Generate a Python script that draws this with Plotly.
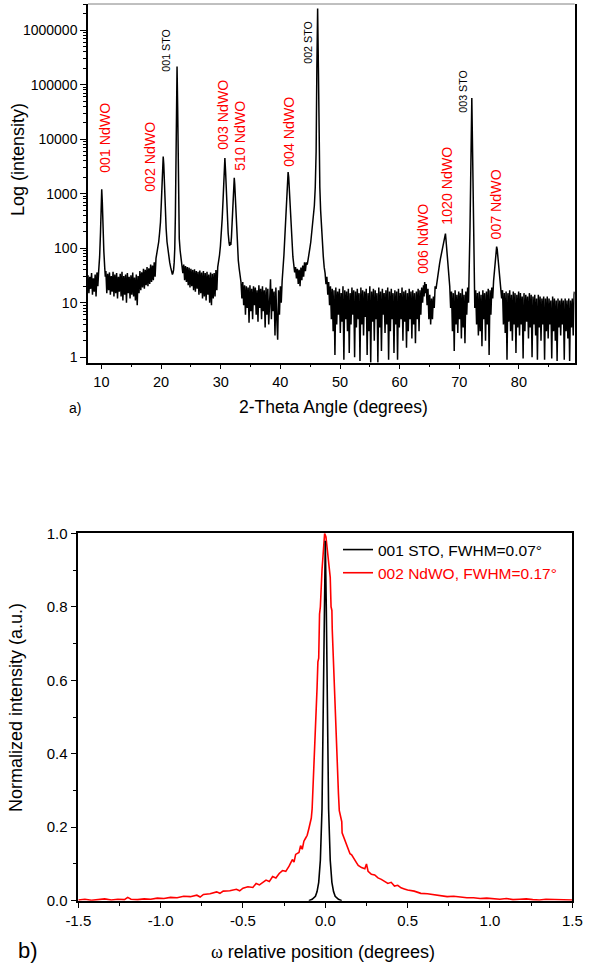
import plotly.graph_objects as go

# ---------------- DATA: (a) XRD 2-theta scan in segments ----------------
seg01_tt = [7.75, 7.9, 8.05, 8.2, 8.35, 8.5, 8.65, 8.8, 8.95, 9.1, 9.25, 9.4, 9.55,
            9.7, 9.85, 9.95, 10.05, 10.15, 10.25, 10.4, 10.55, 10.65]
seg01_int = [32, 15, 30, 18, 35, 14, 28, 16, 33, 13, 36, 20, 40,
             70, 200, 600, 1200, 700, 250, 90, 45, 30]

seg02_tt = [10.75, 10.9, 11.05, 11.2, 11.35, 11.5, 11.65, 11.8, 11.95, 12.1,
            12.25, 12.4, 12.55, 12.7, 12.85, 13.0, 13.15, 13.3, 13.45, 13.6,
            13.75, 13.9, 14.05, 14.2, 14.35, 14.5, 14.65, 14.8, 14.95, 15.1,
            15.25, 15.4, 15.55, 15.7, 15.85, 16.0, 16.15, 16.3, 16.45, 16.6,
            16.75, 16.9, 17.05, 17.2, 17.35, 17.5, 17.65, 17.8, 17.95, 18.1,
            18.25, 18.4, 18.55, 18.7, 18.85, 19.0]
seg02_int = [38, 15, 34, 17, 36, 14, 31, 16, 37, 13,
             33, 15, 35, 12, 30, 16, 34, 13, 37, 11,
             31, 14, 33, 10, 35, 15, 30, 12, 32, 14,
             36, 13, 29, 11, 33, 9, 31, 15, 38, 17,
             36, 19, 42, 18, 40, 21, 45, 20, 43, 22,
             50, 24, 48, 26, 55, 30]

seg03_tt = [19.15, 19.3, 19.45, 19.6, 19.75, 19.9, 20.05, 20.2, 20.3, 20.36,
            20.45, 20.55, 20.7, 20.85, 21.0, 21.15, 21.3, 21.45, 21.6, 21.75,
            21.9, 22.0, 22.1, 22.2, 22.3, 22.4, 22.5, 22.58, 22.68, 22.78,
            22.86, 22.95, 23.05, 23.2, 23.35, 23.5]
seg03_int = [65, 80, 100, 130, 190, 300, 700, 2000, 4000, 4800,
             3500, 1500, 500, 230, 130, 90, 70, 55, 45, 38,
             33, 35, 40, 55, 100, 400, 3000, 40000, 215000, 40000,
             3000, 400, 150, 90, 65, 52]

seg04_tt = [23.65, 23.8, 23.95, 24.1, 24.25, 24.4, 24.55, 24.7, 24.85, 25.0,
            25.15, 25.3, 25.45, 25.6, 25.75, 25.9, 26.05, 26.2, 26.35, 26.5,
            26.65, 26.8, 26.95, 27.1, 27.25, 27.4, 27.55, 27.7, 27.85, 28.0,
            28.15, 28.3, 28.45, 28.6, 28.75, 28.9, 29.05, 29.2, 29.35, 29.5]
seg04_int = [35, 50, 26, 47, 24, 45, 21, 44, 19, 42,
             20, 40, 17, 41, 16, 38, 18, 37, 14, 39,
             15, 36, 12, 38, 13, 35, 11, 37, 14, 33,
             10, 36, 9, 34, 12, 35, 13, 40, 17, 45]

seg05_tt = [29.65, 29.8, 29.95, 30.1, 30.25, 30.4, 30.55, 30.7, 30.82, 30.95,
            31.1, 31.25, 31.4, 31.5, 31.6, 31.7, 31.8, 31.95, 32.1, 32.2,
            32.27, 32.35, 32.5, 32.65, 32.8, 32.95, 33.1, 33.25, 33.4]
seg05_int = [55, 75, 110, 180, 350, 800, 2200, 4500, 2500, 900,
             350, 190, 125, 110, 130, 115, 160, 350, 900, 1600,
             1950, 1500, 600, 220, 100, 60, 42, 32, 24]

seg06_tt = [33.55, 33.7, 33.85, 34.0, 34.15, 34.3, 34.45, 34.6, 34.75, 34.9,
            35.05, 35.2, 35.35, 35.5, 35.65, 35.8, 35.95, 36.1, 36.25, 36.4,
            36.55, 36.7, 36.85, 37.0, 37.15, 37.3, 37.45, 37.6, 37.75, 37.9,
            38.05, 38.2, 38.35, 38.5, 38.65, 38.8, 38.95, 39.1, 39.25, 39.4,
            39.55, 39.7, 39.85, 40.0, 40.15]
seg06_int = [12, 24, 9, 21, 6, 20, 8, 19, 4.3, 21,
             7, 18, 5, 20, 9, 19, 6, 17, 4.5, 21,
             8, 18, 5, 20, 7, 17, 3.5, 19, 6, 18,
             4, 20, 27, 5, 18, 7, 16, 2.5, 19, 5,
             2.1, 17, 6, 20, 10]

seg07_tt = [40.3, 40.45, 40.6, 40.75, 40.9, 41.05, 41.18, 41.3, 41.4, 41.52,
            41.65, 41.8, 41.95, 42.1,
            42.25, 42.4, 42.55, 42.7, 42.85, 43.0, 43.15, 43.3, 43.45, 43.6,
            43.75, 43.9, 44.05, 44.2, 44.35, 44.5,
            44.65, 44.8, 44.95, 45.1, 45.25, 45.4, 45.55, 45.7, 45.85, 46.0,
            46.12, 46.25, 46.38, 46.5, 46.62, 46.75, 46.9, 47.05, 47.2, 47.35,
            47.5, 47.65, 47.8, 47.95, 48.1, 48.25, 48.4]
seg07_int = [25, 40, 75, 160, 400, 1000, 2000, 2500, 2000, 1000,
             450, 200, 110, 70,
             50, 36, 45, 28, 42, 22, 40, 20, 44, 26,
             48, 30, 55, 38, 55, 50,
             62, 75, 100, 130, 180, 250, 380, 600, 1300, 6000,
             200000, 2500000, 200000, 6000, 1300, 500, 230, 120, 70, 45,
             35, 22, 30, 14, 24, 9, 20]

seg08_tt = [48.55, 48.7, 48.85, 49.0, 49.15, 49.3, 49.45, 49.6, 49.75, 49.9,
            50.05, 50.2, 50.35, 50.5, 50.65, 50.8, 50.95, 51.1, 51.25, 51.4,
            51.55, 51.7, 51.85, 52.0, 52.15, 52.3, 52.45, 52.6, 52.75, 52.9,
            53.05, 53.2, 53.35, 53.5, 53.65, 53.8, 53.95, 54.1, 54.25, 54.4,
            54.55, 54.7, 54.85, 55.0, 55.15, 55.3, 55.45, 55.6, 55.75, 55.9,
            56.05, 56.2, 56.35, 56.5, 56.65, 56.8, 56.95, 57.1, 57.25, 57.4,
            57.55, 57.7, 57.85, 58.0, 58.15, 58.3, 58.45, 58.6, 58.75, 58.9,
            59.05, 59.2, 59.35, 59.5, 59.65, 59.8, 59.95, 60.1, 60.25, 60.4,
            60.55, 60.7, 60.85, 61.0, 61.15, 61.3, 61.45, 61.6, 61.75, 61.9,
            62.05, 62.2, 62.35, 62.5, 62.65, 62.8, 62.95, 63.1, 63.25, 63.4,
            63.55, 63.7]
seg08_int = [5, 18, 3, 17, 1.1, 19, 4, 16, 6, 18,
             2.8, 15, 4.5, 20, 0.9, 17, 5, 16, 3, 18,
             1.2, 15, 4, 19, 6, 17, 1.0, 16, 3.5, 18,
             5, 15, 0.85, 19, 4, 17, 2.5, 16, 5.5, 18,
             1.1, 15, 3, 20, 0.8, 16, 4.5, 18, 2, 17,
             5, 15, 0.8, 19, 3.5, 16, 1.3, 18, 6, 15,
             2.8, 17, 4, 19, 0.9, 16, 3, 18, 5, 15,
             1.2, 17, 4, 16, 0.9, 18, 3.5, 15, 5, 19,
             2, 16, 4.5, 17, 1.5, 15, 3, 18, 5, 16,
             2.2, 17, 4, 15, 1.8, 16, 5, 18, 3, 17,
             6, 19]

seg09_tt = [63.85, 64.0, 64.1, 64.2, 64.3, 64.45, 64.6, 64.75, 64.9, 65.05,
            65.2, 65.35, 65.5, 65.65, 65.8, 65.95, 66.1, 66.25, 66.4, 66.55,
            66.7, 66.85, 67.0, 67.15, 67.3, 67.45, 67.6, 67.68, 67.8, 67.95,
            68.1, 68.25, 68.4]
seg09_int = [10, 21, 13, 24, 15, 22, 9, 18, 5, 14,
             4, 12, 5, 13, 8, 20, 18, 25, 32, 40,
             52, 65, 80, 100, 125, 150, 180, 186, 130, 80,
             45, 28, 20]

seg10_tt = [68.55, 68.7, 68.85, 69.0, 69.15, 69.3, 69.45, 69.6, 69.75, 69.9,
            70.05, 70.2, 70.35, 70.5, 70.65, 70.8, 70.95, 71.1, 71.25, 71.4, 71.55]
seg10_int = [8, 16, 3, 15, 1.3, 17, 4, 14, 2.8, 16,
             5, 15, 2.2, 18, 3.5, 14, 1.8, 16, 6, 19, 10]

seg11_tt = [71.7, 71.8, 71.9, 72.0, 72.1, 72.2, 72.3, 72.4, 72.5]
seg11_int = [40, 250, 1500, 10000, 57000, 10000, 1500, 250, 40]

seg12_tt = [72.6, 72.75, 72.9, 73.05, 73.2, 73.35, 73.5, 73.65, 73.8, 73.95,
            74.1, 74.25, 74.4, 74.55, 74.7, 74.85, 75.0, 75.15, 75.3, 75.45, 75.6]
seg12_int = [8, 17, 4, 15, 2.5, 16, 3, 14, 1.6, 17,
             5, 15, 2, 16, 4, 18, 1.1, 17, 6, 19, 12]

seg13_tt = [75.75, 75.9, 76.05, 76.18, 76.26, 76.36, 76.5, 76.65, 76.8, 76.95, 77.1]
seg13_int = [25, 40, 65, 90, 107, 95, 65, 42, 28, 20, 12]

seg14_tt = [77.25, 77.4, 77.55, 77.7, 77.85, 78.0, 78.15, 78.3, 78.45, 78.6,
            78.75, 78.9, 79.05, 79.2, 79.35, 79.5, 79.65, 79.8, 79.95, 80.1,
            80.25, 80.4, 80.55, 80.7, 80.85, 81.0, 81.15, 81.3, 81.45, 81.6,
            81.75, 81.9, 82.05, 82.2, 82.35, 82.5, 82.65, 82.8, 82.95, 83.1,
            83.25, 83.4, 83.55, 83.7, 83.85, 84.0, 84.15, 84.3, 84.45, 84.6,
            84.75, 84.9, 85.05, 85.2, 85.35, 85.5, 85.65, 85.8, 85.95, 86.1,
            86.25, 86.4, 86.55, 86.7, 86.85, 87.0, 87.15, 87.3, 87.45, 87.6,
            87.75, 87.9, 88.05, 88.2, 88.35, 88.5, 88.65, 88.8, 88.95, 89.1,
            89.25, 89.3]
seg14_int = [17, 4, 15, 2.8, 16, 0.9, 15, 4.5, 17, 3,
             14, 2, 16, 4, 15, 1.2, 14, 3.5, 16, 2.5,
             15, 4, 13, 0.95, 15, 3, 14, 4.5, 13, 2.2,
             15, 3.5, 14, 1.0, 13, 4, 14, 2.5, 12, 0.9,
             14, 3.5, 13, 2, 12, 4, 13, 0.9, 12, 3,
             13, 2.2, 12, 4, 11, 0.95, 13, 3, 12, 2,
             11, 0.85, 12, 3.5, 11, 2.5, 12, 4, 11, 0.9,
             12, 3, 11, 2.2, 12, 0.85, 11, 3.5, 12, 2.5,
             14, 16]

xrd_segments = [
    (seg01_tt, seg01_int), (seg02_tt, seg02_int), (seg03_tt, seg03_int),
    (seg04_tt, seg04_int), (seg05_tt, seg05_int), (seg06_tt, seg06_int),
    (seg07_tt, seg07_int), (seg08_tt, seg08_int), (seg09_tt, seg09_int),
    (seg10_tt, seg10_int), (seg11_tt, seg11_int), (seg12_tt, seg12_int),
    (seg13_tt, seg13_int), (seg14_tt, seg14_int),
]

# peak labels (a)
peak_labels = ["001 NdWO", "002 NdWO", "001 STO", "003 NdWO", "510 NdWO",
               "004 NdWO", "002 STO", "006 NdWO", "1020 NdWO", "003 STO", "007 NdWO"]
label_phase = ["NdWO", "NdWO", "STO", "NdWO", "NdWO",
               "NdWO", "STO", "NdWO", "NdWO", "STO", "NdWO"]
label_x = [10.59, 18.13, 20.81, 30.37, 33.22, 41.44, 44.62, 63.9, 67.9, 70.6, 76.1]
label_ylog = [4.024, 3.675, 5.639, 4.446, 4.061, 4.134, 5.785, 2.171, 3.143, 4.886, 2.796]

xrd_xticks = [10, 20, 30, 40, 50, 60, 70, 80]
xrd_yticks = [1, 10, 100, 1000, 10000, 100000, 1000000]
xrd_ytick_text = ["1", "10", "100", "1000", "10000", "100000", "1000000"]

# ---------------- DATA: (b) rocking curves ----------------
sto_omega = [-0.10, -0.08, -0.06, -0.05, -0.04, -0.03, -0.02, -0.012, -0.006, 0.0,
             0.006, 0.012, 0.02, 0.03, 0.04, 0.05, 0.06, 0.08, 0.10]
sto_norm = [0.0, 0.004, 0.012, 0.025, 0.05, 0.11, 0.25, 0.5, 0.8, 0.98,
            0.8, 0.5, 0.25, 0.11, 0.05, 0.025, 0.012, 0.004, 0.0]

ndwo_omega = [
    -1.50, -1.46, -1.42, -1.38, -1.34, -1.30, -1.26, -1.22, -1.20, -1.18,
    -1.14, -1.10, -1.06, -1.02, -0.98, -0.94, -0.90, -0.86, -0.82, -0.78,
    -0.76, -0.74, -0.70, -0.66, -0.64, -0.62, -0.58, -0.54, -0.52, -0.50,
    -0.47, -0.44, -0.42, -0.40, -0.38, -0.36, -0.34, -0.32, -0.30, -0.28,
    -0.26, -0.24, -0.22, -0.20, -0.19, -0.18, -0.16, -0.15, -0.14, -0.13,
    -0.12, -0.11, -0.10, -0.09, -0.085, -0.08, -0.075, -0.07, -0.06, -0.05,
    -0.045, -0.04, -0.035, -0.03, -0.02, -0.01, -0.004, 0.004, 0.01, 0.02,
    0.03, 0.035, 0.04, 0.042, 0.05, 0.06, 0.07, 0.08, 0.085, 0.095,
    0.10, 0.102, 0.11, 0.12, 0.13, 0.14, 0.15, 0.16, 0.17, 0.18,
    0.19, 0.20, 0.21, 0.22, 0.24, 0.25, 0.26, 0.28, 0.30, 0.32,
    0.34, 0.36, 0.38, 0.40, 0.42, 0.44, 0.46, 0.48, 0.50, 0.54,
    0.58, 0.62, 0.66, 0.70, 0.74, 0.78, 0.82, 0.86, 0.90, 0.94,
    0.98, 1.02, 1.06, 1.10, 1.14, 1.18, 1.22, 1.26, 1.30, 1.34,
    1.38, 1.42, 1.46, 1.50,
]
ndwo_norm = [
    0.002, 0.004, 0.001, 0.003, 0.005, 0.002, 0.004, 0.003, 0.009, 0.004,
    0.003, 0.005, 0.004, 0.007, 0.006, 0.009, 0.008, 0.012, 0.011, 0.015,
    0.010, 0.017, 0.019, 0.024, 0.020, 0.026, 0.027, 0.031, 0.027, 0.034,
    0.038, 0.036, 0.047, 0.043, 0.050, 0.056, 0.052, 0.066, 0.062, 0.074,
    0.082, 0.080, 0.094, 0.112, 0.105, 0.126, 0.131, 0.150, 0.140, 0.162,
    0.170, 0.178, 0.196, 0.215, 0.225, 0.25, 0.30, 0.38, 0.47, 0.58,
    0.65, 0.66, 0.78, 0.80, 0.90, 0.98, 1.00, 0.99, 0.96, 0.92,
    0.88, 0.80, 0.79, 0.74, 0.64, 0.50, 0.38, 0.29, 0.245, 0.225,
    0.215, 0.185, 0.175, 0.160, 0.150, 0.138, 0.128, 0.125, 0.117, 0.107,
    0.103, 0.096, 0.092, 0.090, 0.087, 0.100, 0.080, 0.072, 0.070, 0.062,
    0.058, 0.052, 0.047, 0.050, 0.040, 0.042, 0.035, 0.032, 0.029, 0.026,
    0.020, 0.019, 0.016, 0.014, 0.011, 0.012, 0.009, 0.008, 0.008, 0.006,
    0.007, 0.005, 0.004, 0.006, 0.003, 0.004, 0.005, 0.003, 0.002, 0.004,
    0.003, 0.002, 0.003, 0.002,
]
rc_xticks = [-1.5, -1.0, -0.5, 0.0, 0.5, 1.0, 1.5]
rc_yticks = [0.0, 0.2, 0.4, 0.6, 0.8, 1.0]

# ---------------- FIGURE ----------------
two_theta, intensity = [], []
for tt, it in xrd_segments:
    assert len(tt) == len(it), (tt[0], len(tt), len(it))
    two_theta += tt
    intensity += it

W, H = 589, 973
FONT = "Liberation Sans, Arial, sans-serif"


def fx(px):
    return px / W


def fy(py):
    return 1 - py / H


fig = go.Figure()
fig.add_trace(go.Scatter(x=two_theta, y=intensity, mode="lines",
                         line=dict(color="black", width=1.5),
                         showlegend=False, xaxis="x", yaxis="y"))
fig.add_trace(go.Scatter(x=ndwo_omega, y=ndwo_norm, mode="lines",
                         name="<span style='color:#ff0000'>002 NdWO, FWHM=0.17°</span>",
                         line=dict(color="#ff0000", width=1.6), legendrank=2,
                         xaxis="x2", yaxis="y2"))
fig.add_trace(go.Scatter(x=sto_omega, y=sto_norm, mode="lines",
                         name="001 STO, FWHM=0.07°",
                         line=dict(color="black", width=1.6), legendrank=1,
                         xaxis="x2", yaxis="y2"))

minor_log = [m * 10 ** e for e in range(0, 7) for m in range(2, 10)]

axis_common = dict(showline=True, linecolor="black", linewidth=1.5, showgrid=False,
                   zeroline=False, ticks="outside", tickcolor="black", tickwidth=1.2,
                   automargin=False)

fig.update_layout(
    width=W, height=H, margin=dict(l=0, r=0, t=0, b=0, autoexpand=False),
    paper_bgcolor="white", plot_bgcolor="white",
    font=dict(family=FONT, color="black"),
    xaxis=dict(domain=[fx(88), fx(574.7)], anchor="y", range=[7.75, 89.35],
               tickmode="array", tickvals=xrd_xticks, ticklen=5, mirror=False,
               tickfont=dict(family=FONT, size=14.5, color="black"),
               minor=dict(tickmode="array", tickvals=[15, 25, 35, 45, 55, 65, 75, 85],
                          ticks="outside", ticklen=3, tickcolor="black"),
               **axis_common),
    yaxis=dict(domain=[fy(362.7), fy(4)], anchor="x", type="log", range=[-0.1, 6.48],
               tickmode="array", tickvals=xrd_yticks, ticktext=xrd_ytick_text,
               ticklen=6, mirror=True,
               tickfont=dict(family=FONT, size=14, color="black"),
               minor=dict(tickmode="array", tickvals=minor_log, ticks="outside",
                          ticklen=3, tickcolor="black"),
               **axis_common),
    xaxis2=dict(domain=[fx(78.3), fx(572.3)], anchor="y2", range=[-1.5, 1.5],
                tickmode="array", tickvals=rc_xticks,
                ticktext=["%.1f" % v for v in rc_xticks], ticklen=6, mirror=True,
                tickfont=dict(family=FONT, size=15, color="black"),
                minor=dict(tickmode="array", tickvals=[-1.25, -0.75, -0.25, 0.25, 0.75, 1.25],
                           ticks="outside", ticklen=3.5, tickcolor="black"),
                **axis_common),
    yaxis2=dict(domain=[fy(900.7), fy(533.3)], anchor="x2", range=[0, 1.0],
                tickmode="array", tickvals=rc_yticks,
                ticktext=["%.1f" % v for v in rc_yticks], ticklen=6, mirror=True,
                tickfont=dict(family=FONT, size=15, color="black"),
                minor=dict(tickmode="array", tickvals=[0.1, 0.3, 0.5, 0.7, 0.9],
                           ticks="outside", ticklen=3.5, tickcolor="black"),
                **axis_common),
    legend=dict(x=fx(338), y=fy(533), xanchor="left", yanchor="top",
                bgcolor="rgba(0,0,0,0)", font=dict(family=FONT, size=15.5, color="black"),
                tracegroupgap=0, itemwidth=30),
    shapes=[dict(type="line", xref="paper", yref="paper", x0=fx(88), x1=fx(574.7),
                 y0=fy(4), y1=fy(4), line=dict(color="#808080", width=1))],
)

annotations = []
for txt, ph, lx, ly in zip(peak_labels, label_phase, label_x, label_ylog):
    red = ph == "NdWO"
    annotations.append(dict(text=txt, x=lx, y=ly, xref="x", yref="y", showarrow=False,
                            textangle=-90, xanchor="center", yanchor="middle",
                            font=dict(family=FONT, size=14.2 if red else 10.7,
                                      color="#ff0000" if red else "black")))

titles = [
    ("Log (intensity)", 18, 160, -90, 18),
    ("2-Theta Angle (degrees)", 333.5, 407, 0, 17.5),
    ("a)", 75, 408, 0, 14),
    ("Normalized intensity (a.u.)", 16, 708, -90, 18),
    ("<span style='font-family:Liberation Serif'>ω</span> relative position (degrees)", 323, 952, 0, 18),
    ("b)", 28, 950, 0, 22),
]
for txt, px, py, ang, size in titles:
    annotations.append(dict(text=txt, x=fx(px), y=fy(py), xref="paper", yref="paper",
                            showarrow=False, textangle=ang, xanchor="center",
                            yanchor="middle", font=dict(family=FONT, size=size, color="black")))

fig.update_layout(annotations=annotations)
fig.write_html("out.html", config={"displayModeBar": False},
               post_script="document.body.style.margin='0';")
